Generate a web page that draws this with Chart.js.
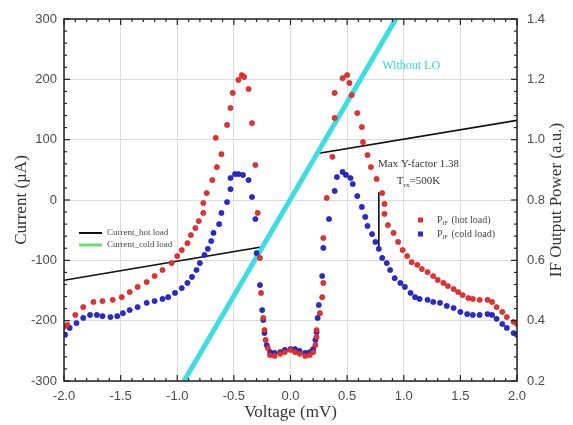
<!DOCTYPE html>
<html lang="en">
<head>
  <meta charset="UTF-8">
  <title>IV curves and IF output power</title>
  <script src="https://cdn.jsdelivr.net/npm/chart.js"></script>
  <style>
    html, body { margin: 0; padding: 0; background: #fff; }
    #wrap { width: 573px; height: 425px; }
  </style>
</head>
<body>
  <div id="wrap"><canvas id="chart" width="573" height="425"></canvas></div>

  <script>
    // tick labels
    const voltTicks = [-2.0, -1.5, -1.0, -0.5, 0.0, 0.5, 1.0, 1.5, 2.0];
    const currentTicks = [-300, -200, -100, 0, 100, 200, 300];
    const powerTicks = [0.2, 0.4, 0.6, 0.8, 1.0, 1.2, 1.4];

    // pumped IV curve, hot load (uA vs mV)
    const ivHotV = [-2.0, -0.26, 0.24, 2.0];
    const ivHotI = [-133, -78, 77, 132];

    // IV curve without LO
    const ivNoLoV = [-0.94, 0.93];
    const ivNoLoI = [-300, 300];

    // IF output power, hot load (a.u.)
    const pHotV = [-2.00,-1.97,-1.90,-1.83,-1.74,-1.66,-1.57,-1.49,-1.42,-1.35,-1.27,-1.20,-1.13,-1.05,-1.00,-0.96,-0.91,-0.88,-0.84,-0.81,-0.77,-0.77,-0.74,-0.69,-0.65,-0.61,-0.66,-0.56,-0.53,-0.51,-0.46,-0.43,-0.41,-0.37,-0.34,-0.31,-0.29,-0.27,-0.26,-0.24,-0.23,-0.22,-0.20,-0.18,-0.14,-0.09,-0.05,0.00,0.04,0.08,0.13,0.17,0.20,0.22,0.23,0.23,0.26,0.28,0.29,0.29,0.32,0.37,0.39,0.39,0.46,0.50,0.52,0.54,0.59,0.63,0.64,0.68,0.71,0.76,0.81,0.83,0.83,0.86,0.91,0.95,0.99,1.03,1.07,1.12,1.16,1.21,1.26,1.30,1.35,1.39,1.44,1.48,1.52,1.57,1.61,1.67,1.74,1.78,1.82,1.87,1.91,1.97,2.00];
    const pHotP = [0.380,0.386,0.419,0.445,0.462,0.465,0.469,0.478,0.495,0.512,0.528,0.548,0.568,0.591,0.614,0.634,0.657,0.684,0.707,0.730,0.757,0.790,0.823,0.866,0.909,0.952,1.006,1.049,1.105,1.155,1.198,1.214,1.208,1.168,1.055,0.916,0.757,0.608,0.492,0.409,0.369,0.336,0.309,0.286,0.283,0.290,0.296,0.303,0.296,0.290,0.283,0.286,0.296,0.319,0.346,0.369,0.425,0.478,0.525,0.674,0.807,0.943,1.072,1.155,1.204,1.214,1.188,1.148,1.088,1.042,0.992,0.949,0.909,0.870,0.823,0.787,0.754,0.717,0.691,0.661,0.634,0.614,0.594,0.585,0.571,0.561,0.548,0.535,0.525,0.515,0.505,0.495,0.485,0.475,0.472,0.469,0.469,0.462,0.445,0.429,0.412,0.396,0.389];

    // IF output power, cold load (a.u.)
    const pColdV = [-1.99,-1.95,-1.89,-1.83,-1.77,-1.71,-1.66,-1.59,-1.53,-1.48,-1.42,-1.35,-1.27,-1.20,-1.13,-1.08,-1.02,-0.96,-0.91,-0.87,-0.83,-0.80,-0.76,-0.73,-0.70,-0.68,-0.63,-0.61,-0.56,-0.53,-0.53,-0.49,-0.46,-0.42,-0.37,-0.34,-0.31,-0.30,-0.27,-0.25,-0.24,-0.23,-0.21,-0.18,-0.14,-0.09,-0.05,0.00,0.04,0.08,0.13,0.17,0.20,0.22,0.23,0.24,0.25,0.28,0.29,0.34,0.39,0.41,0.46,0.49,0.53,0.55,0.59,0.63,0.66,0.68,0.72,0.75,0.78,0.81,0.85,0.88,0.92,0.97,1.01,1.06,1.10,1.14,1.21,1.26,1.32,1.38,1.44,1.50,1.56,1.61,1.67,1.74,1.78,1.82,1.87,1.91,1.97,2.00];
    const pColdP = [0.353,0.376,0.392,0.409,0.419,0.419,0.415,0.412,0.415,0.425,0.435,0.445,0.459,0.465,0.472,0.478,0.492,0.508,0.525,0.545,0.568,0.591,0.618,0.638,0.664,0.691,0.720,0.757,0.793,0.836,0.873,0.886,0.886,0.883,0.866,0.810,0.737,0.624,0.518,0.435,0.402,0.359,0.319,0.296,0.293,0.296,0.303,0.306,0.306,0.300,0.293,0.296,0.306,0.336,0.362,0.409,0.452,0.548,0.641,0.737,0.830,0.876,0.893,0.883,0.873,0.853,0.813,0.777,0.744,0.714,0.687,0.661,0.638,0.608,0.591,0.568,0.541,0.525,0.512,0.492,0.478,0.472,0.469,0.462,0.459,0.449,0.442,0.429,0.422,0.419,0.419,0.422,0.419,0.406,0.389,0.376,0.359,0.353];

    // marker for the max Y-factor
    const yFactorV = [0.78, 0.78];
    const yFactorP = [0.826, 0.634];

    const toXY = (xs, ys) => xs.map((x, i) => ({ x: x, y: ys[i] }));
    const setTicks = arr => scale => { scale.ticks = arr.map(v => ({ value: v })); };

    const SERIF = '"Liberation Serif", "Times New Roman", serif';
    const SANS = '"Liberation Sans", Arial, sans-serif';

    // frame, inside ticks and the text notes
    const decor = {
      id: 'decor',
      afterDatasetsDraw(chart) {
        const { ctx, chartArea: a, scales } = chart;
        const x = scales.x, y = scales.y, y1 = scales.y1;
        ctx.save();
        ctx.strokeStyle = '#222';
        ctx.lineWidth = 1.2;
        // x ticks, bottom and top
        for (let i = -20; i <= 20; i++) {
          const px = x.getPixelForValue(i / 10);
          const len = i % 5 === 0 ? 6 : 3;
          ctx.beginPath();
          ctx.moveTo(px, a.bottom); ctx.lineTo(px, a.bottom - len);
          ctx.moveTo(px, a.top); ctx.lineTo(px, a.top + len);
          ctx.stroke();
        }
        // left ticks
        for (let i = -15; i <= 15; i++) {
          const py = y.getPixelForValue(i * 20);
          const len = i % 5 === 0 ? 6 : 3;
          ctx.beginPath();
          ctx.moveTo(a.left, py); ctx.lineTo(a.left + len, py);
          ctx.stroke();
        }
        // right ticks
        for (let i = 5; i <= 35; i++) {
          const py = y1.getPixelForValue(i * 0.04);
          const len = i % 5 === 0 ? 6 : 3;
          ctx.beginPath();
          ctx.moveTo(a.right, py); ctx.lineTo(a.right - len, py);
          ctx.stroke();
        }
        ctx.lineWidth = 1.5;
        ctx.strokeRect(a.left, a.top, a.right - a.left, a.bottom - a.top);

        // right axis title, reads bottom to top like the left one
        ctx.save();
        ctx.translate(557, (a.top + a.bottom) / 2);
        ctx.rotate(-Math.PI / 2);
        ctx.font = '17px ' + SERIF;
        ctx.fillStyle = '#333';
        ctx.textAlign = 'center';
        ctx.textBaseline = 'middle';
        ctx.fillText('IF Output Power (a.u.)', 0, 0);
        ctx.restore();

        // "Without LO"
        ctx.font = '12px ' + SERIF;
        ctx.fillStyle = '#2fd4dc';
        ctx.textBaseline = 'middle';
        ctx.textAlign = 'left';
        ctx.fillText('Without LO', x.getPixelForValue(0.81), y.getPixelForValue(222));

        // Y-factor note
        ctx.fillStyle = '#333';
        ctx.font = '11px ' + SERIF;
        ctx.textAlign = 'center';
        const nx = x.getPixelForValue(1.13);
        ctx.fillText('Max Y-factor 1.38', nx, y1.getPixelForValue(0.919));
        const ty = y1.getPixelForValue(0.862);
        const w1 = ctx.measureText('T').width;
        ctx.font = '7px ' + SERIF;
        const w2 = ctx.measureText('rx').width;
        ctx.font = '11px ' + SERIF;
        const w3 = ctx.measureText('=500K').width;
        let tx = nx - (w1 + w2 + w3) / 2;
        ctx.textAlign = 'left';
        ctx.fillText('T', tx, ty);
        ctx.font = '7px ' + SERIF;
        ctx.fillText('rx', tx + w1, ty + 4);
        ctx.font = '11px ' + SERIF;
        ctx.fillText('=500K', tx + w1 + w2, ty);

        // left legend
        ctx.lineWidth = 2;
        ctx.strokeStyle = '#111';
        ctx.beginPath(); ctx.moveTo(79, 233); ctx.lineTo(102, 233); ctx.stroke();
        ctx.lineWidth = 3;
        ctx.strokeStyle = '#66e066';
        ctx.beginPath(); ctx.moveTo(79, 245); ctx.lineTo(102, 245); ctx.stroke();
        ctx.font = '9px ' + SERIF;
        ctx.fillStyle = '#444';
        ctx.fillText('Current_hot load', 107, 233);
        ctx.fillText('Current_cold load', 107, 245);

        // right legend
        const rows = [['#e03030', '(hot load)', 220], ['#2a2ad0', '(cold load)', 234]];
        rows.forEach(r => {
          ctx.fillStyle = r[0];
          ctx.fillRect(418, r[2] - 2.5, 5, 5);
          ctx.fillStyle = '#444';
          ctx.font = '10px ' + SERIF;
          ctx.fillText('P', 437, r[2]);
          const pw = ctx.measureText('P').width;
          ctx.font = '6px ' + SERIF;
          ctx.fillText('IF', 437 + pw, r[2] + 3);
          const iw = ctx.measureText('IF').width;
          ctx.font = '10px ' + SERIF;
          ctx.fillText(' ' + r[1], 437 + pw + iw + 1, r[2]);
        });
        ctx.restore();
      }
    };

    new Chart(document.getElementById('chart'), {
      type: 'scatter',
      data: {
        datasets: [
          {
            label: 'P_IF (hot load)',
            data: toXY(pHotV, pHotP),
            yAxisID: 'y1',
            showLine: false,
            pointRadius: 2.6,
            backgroundColor: '#e23232',
            borderColor: '#c21e1e',
            borderWidth: 0.6,
            order: 1
          },
          {
            label: 'P_IF (cold load)',
            data: toXY(pColdV, pColdP),
            yAxisID: 'y1',
            showLine: false,
            pointRadius: 2.6,
            backgroundColor: '#2a2ad0',
            borderColor: '#151595',
            borderWidth: 0.6,
            order: 2
          },
          {
            label: 'Y-factor',
            data: toXY(yFactorV, yFactorP),
            yAxisID: 'y1',
            showLine: true,
            borderColor: '#111',
            borderWidth: 1.6,
            pointRadius: 0,
            order: 3
          },
          {
            label: 'Without LO',
            data: toXY(ivNoLoV, ivNoLoI),
            yAxisID: 'y',
            showLine: true,
            borderColor: '#3ddde2',
            borderWidth: 5,
            pointRadius: 0,
            order: 4
          },
          {
            label: 'Current_hot load',
            data: toXY(ivHotV, ivHotI),
            yAxisID: 'y',
            showLine: true,
            borderColor: '#111',
            borderWidth: 1.6,
            pointRadius: 0,
            order: 5
          }
        ]
      },
      options: {
        responsive: false,
        animation: false,
        layout: { padding: { top: 19, left: 0, right: 0, bottom: 0 } },
        plugins: { legend: { display: false }, tooltip: { enabled: false } },
        scales: {
          x: {
            type: 'linear',
            min: -2, max: 2,
            afterBuildTicks: setTicks(voltTicks),
            afterFit: s => { s.height = 44; },
            grid: { color: '#dcdcdc', drawTicks: false },
            border: { display: false },
            ticks: {
              padding: 8,
              autoSkip: false,
              maxRotation: 0,
              color: '#4a4a4a',
              font: { family: SANS, size: 13 },
              callback: v => v.toFixed(1)
            },
            title: {
              display: true,
              text: 'Voltage (mV)',
              color: '#333',
              font: { family: SERIF, size: 17 },
              padding: { top: 0, bottom: 2 }
            }
          },
          y: {
            type: 'linear',
            position: 'left',
            min: -300, max: 300,
            afterBuildTicks: setTicks(currentTicks),
            afterFit: s => { s.width = 64; },
            grid: { color: '#dcdcdc', drawTicks: false },
            border: { display: false },
            ticks: {
              padding: 7,
              color: '#4a4a4a',
              font: { family: SANS, size: 13 }
            },
            title: {
              display: true,
              text: 'Current (µA)',
              color: '#333',
              font: { family: SERIF, size: 17 },
              padding: { top: 11, bottom: 0 }
            }
          },
          y1: {
            type: 'linear',
            position: 'right',
            min: 0.2, max: 1.4,
            afterBuildTicks: setTicks(powerTicks),
            afterFit: s => { s.width = 56; },
            grid: { display: false, drawTicks: false },
            border: { display: false },
            ticks: {
              padding: 10,
              color: '#4a4a4a',
              font: { family: SANS, size: 13 },
              callback: v => v.toFixed(1)
            },
            title: { display: false }
          }
        }
      },
      plugins: [decor]
    });
  </script>
</body>
</html>
